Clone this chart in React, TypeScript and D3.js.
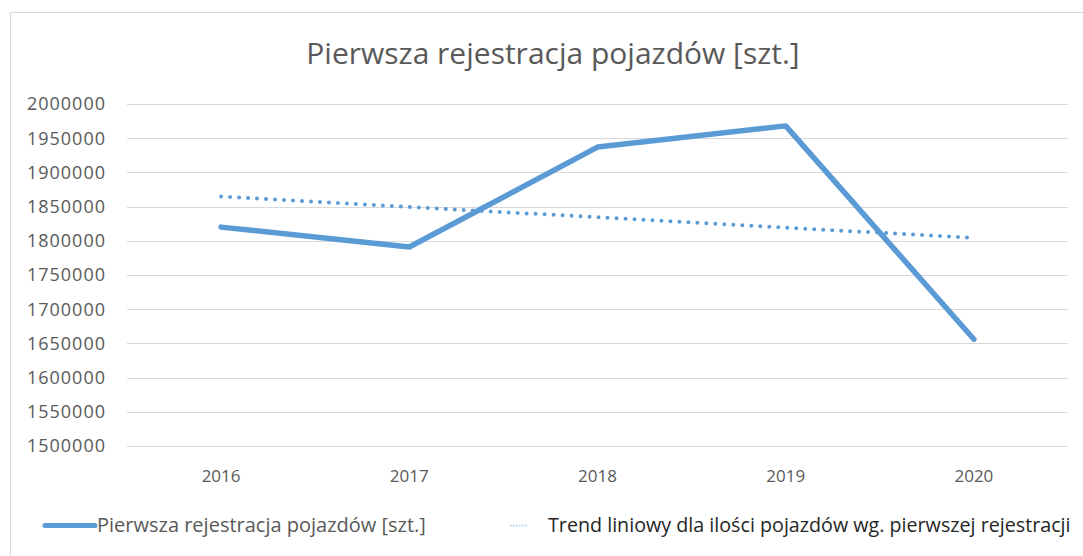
import React from "react";
import * as d3 from "d3";

const years = ["2016", "2017", "2018", "2019", "2020"];
const registrations = [1820000, 1791000, 1937000, 1968000, 1656000];
const yTicks = [1500000, 1550000, 1600000, 1650000, 1700000, 1750000, 1800000, 1850000, 1900000, 1950000, 2000000];
const titleText = "Pierwsza rejestracja pojazdów [szt.]";
const seriesLabel = "Pierwsza rejestracja pojazdów [szt.]";
const trendLabel = "Trend liniowy dla ilości pojazdów wg. pierwszej rejestracji";

const W = 1083;
const H = 556;
const FONT = "'Open Sans', sans-serif";

export default function App() {
  const x = d3.scaleBand<string>().domain(years).range([127, 1068]).padding(0);
  const y = d3.scaleLinear().domain([1500000, 2000000]).range([446, 104]);
  const cx = (c: string) => (x(c) as number) + x.bandwidth() / 2;

  // linear regression trendline (Excel-style linear trend)
  const xs = registrations.map((_, i) => i + 1);
  const mx = d3.mean(xs) as number;
  const my = d3.mean(registrations) as number;
  const slope =
    d3.sum(xs.map((xi, i) => (xi - mx) * (registrations[i] - my))) /
    d3.sum(xs.map((xi) => (xi - mx) * (xi - mx)));
  const intercept = my - slope * mx;
  const trend = years.map((c, i) => ({ c, v: intercept + slope * (i + 1) }));

  const line = d3
    .line<{ c: string; v: number }>()
    .x((d) => cx(d.c))
    .y((d) => y(d.v));
  const mainData = years.map((c, i) => ({ c, v: registrations[i] }));

  return (
    <svg
      width={W}
      height={H}
      style={{ position: "absolute", left: 0, top: 0, background: "#fff" }}
      fontFamily={FONT}
    >
      <rect x={10.5} y={12.5} width={1090} height={560} fill="#fff" stroke="#d9d9d9" strokeWidth={1} />
      <text x={553} y={64} textAnchor="middle" fontSize={30} fill="#595959">
        {titleText}
      </text>
      {yTicks.map((t) => (
        <g key={t}>
          <line x1={127} x2={1068} y1={Math.round(y(t)) + 0.5} y2={Math.round(y(t)) + 0.5} stroke="#d9d9d9" strokeWidth={1} />
          <text x={106} y={y(t)} dy="0.36em" textAnchor="end" fontSize={18} fill="#595959" letterSpacing={1}>
            {t}
          </text>
        </g>
      ))}
      {years.map((c) => (
        <text key={c} x={cx(c)} y={476} dy="0.36em" textAnchor="middle" fontSize={17} fill="#595959">
          {c}
        </text>
      ))}
      <path d={line(mainData) as string} fill="none" stroke="#5B9BD5" strokeWidth={5.5} strokeLinecap="round" strokeLinejoin="round" />
      <path d={line(trend) as string} fill="none" stroke="#5B9BD5" strokeWidth={4} strokeLinecap="round" strokeDasharray="0 9" />
      {/* legend */}
      <line x1={45} x2={95} y1={525.5} y2={525.5} stroke="#5B9BD5" strokeWidth={5} strokeLinecap="round" />
      <text x={97} y={525} dy="0.36em" fontSize={20} fill="#595959">
        {seriesLabel}
      </text>
      <line x1={510} x2={528} y1={525.5} y2={525.5} stroke="#9DC3E6" strokeWidth={1.5} strokeDasharray="1.5 1.5" />
      <text x={548} y={525} dy="0.36em" fontSize={19.7} fill="#262626">
        {trendLabel}
      </text>
    </svg>
  );
}
